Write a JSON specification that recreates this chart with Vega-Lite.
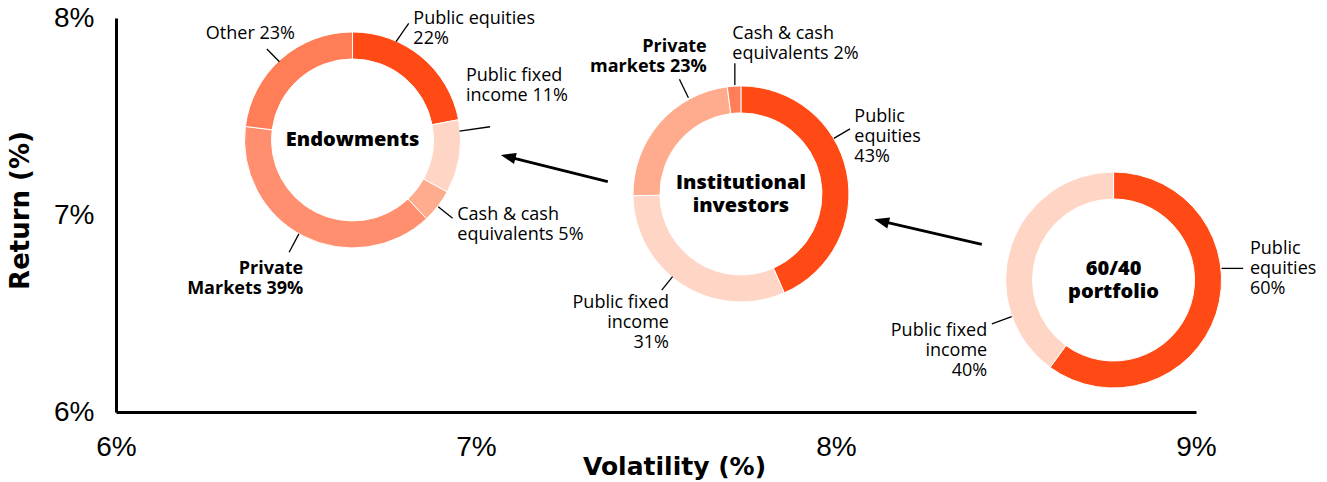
{
  "$schema": "https://vega.github.io/schema/vega-lite/v6.json",
  "width": 1080,
  "height": 394,
  "autosize": {"type": "none"},
  "padding": {"left": 116, "top": 18, "right": 131, "bottom": 70},
  "background": "white",
  "config": {
    "view": {"stroke": null},
    "axis": {
      "grid": false,
      "ticks": false,
      "tickSize": 0,
      "labelFlush": false,
      "domainColor": "black",
      "domainWidth": 3,
      "labelFont": "Liberation Sans",
      "labelFontSize": 28,
      "labelColor": "black",
      "titleFont": "DejaVu Sans",
      "titleFontSize": 25,
      "titleFontWeight": "bold",
      "titleColor": "black"
    }
  },
  "encoding": {
    "x": {
      "field": "vol",
      "type": "quantitative",
      "scale": {"domain": [6, 9], "nice": false, "zero": false},
      "axis": {
        "values": [6, 7, 8, 9],
        "labelExpr": "datum.value + '%'",
        "title": "Volatility (%)",
        "labelPadding": 21,
        "titleX": 558,
        "titleY": 54,
        "titleBaseline": "middle"
      }
    },
    "y": {
      "field": "ret",
      "type": "quantitative",
      "scale": {"domain": [6, 8], "nice": false, "zero": false},
      "axis": {
        "values": [6, 7, 8],
        "labelExpr": "datum.value + '%'",
        "title": "Return (%)",
        "labelPadding": 22,
        "titleX": -96,
        "titleY": 192,
        "titleFontSize": 26,
        "titleBaseline": "middle"
      }
    }
  },
  "layer": [
    {
      "data": {"values": [
        {"portfolio": "Endowments", "asset": "Public equities", "pct": 22, "order": 1, "vol": 6.657, "ret": 7.381},
        {"portfolio": "Endowments", "asset": "Public fixed income", "pct": 11, "order": 2, "vol": 6.657, "ret": 7.381},
        {"portfolio": "Endowments", "asset": "Cash & cash equivalents", "pct": 5, "order": 3, "vol": 6.657, "ret": 7.381},
        {"portfolio": "Endowments", "asset": "Private markets", "pct": 39, "order": 4, "vol": 6.657, "ret": 7.381},
        {"portfolio": "Endowments", "asset": "Other", "pct": 23, "order": 5, "vol": 6.657, "ret": 7.381}
      ]},
      "transform": [{"stack": "pct", "groupby": ["portfolio"], "sort": [{"field": "order"}], "offset": "normalize", "as": ["t0", "t1"]}],
      "mark": {"type": "arc", "innerRadius": 81, "outerRadius": 108, "stroke": "white", "strokeWidth": 1},
      "encoding": {
        "theta": {"field": "t0", "type": "quantitative", "scale": {"domain": [0, 1], "range": [0, 6.283185307179586]}},
        "theta2": {"field": "t1"},
        "color": {"field": "asset", "type": "nominal", "legend": null,
          "scale": {"domain": ["Public equities", "Public fixed income", "Cash & cash equivalents", "Private markets", "Other"],
                    "range": ["#FF4A15", "#FFD6C6", "#FFAC8E", "#FF8F6E", "#FF7D57"]}}
      }
    },
    {
      "data": {"values": [
        {"portfolio": "Institutional investors", "asset": "Public equities", "pct": 43, "order": 1, "vol": 7.736, "ret": 7.107},
        {"portfolio": "Institutional investors", "asset": "Public fixed income", "pct": 31, "order": 2, "vol": 7.736, "ret": 7.107},
        {"portfolio": "Institutional investors", "asset": "Private markets", "pct": 23, "order": 3, "vol": 7.736, "ret": 7.107},
        {"portfolio": "Institutional investors", "asset": "Cash & cash equivalents", "pct": 2, "order": 4, "vol": 7.736, "ret": 7.107}
      ]},
      "transform": [{"stack": "pct", "groupby": ["portfolio"], "sort": [{"field": "order"}], "offset": "normalize", "as": ["t0", "t1"]}],
      "mark": {"type": "arc", "innerRadius": 81, "outerRadius": 108, "stroke": "white", "strokeWidth": 1},
      "encoding": {
        "theta": {"field": "t0", "type": "quantitative", "scale": {"domain": [0, 1], "range": [0, 6.283185307179586]}},
        "theta2": {"field": "t1"},
        "color": {"field": "asset", "type": "nominal", "legend": null,
          "scale": {"domain": ["Public equities", "Public fixed income", "Private markets", "Cash & cash equivalents"],
                    "range": ["#FF4A15", "#FFD6C6", "#FFAC8E", "#FF7D57"]}}
      }
    },
    {
      "data": {"values": [
        {"portfolio": "60/40 portfolio", "asset": "Public equities", "pct": 60, "order": 1, "vol": 8.771, "ret": 6.670},
        {"portfolio": "60/40 portfolio", "asset": "Public fixed income", "pct": 40, "order": 2, "vol": 8.771, "ret": 6.670}
      ]},
      "transform": [{"stack": "pct", "groupby": ["portfolio"], "sort": [{"field": "order"}], "offset": "normalize", "as": ["t0", "t1"]}],
      "mark": {"type": "arc", "innerRadius": 81, "outerRadius": 108, "stroke": "white", "strokeWidth": 1},
      "encoding": {
        "theta": {"field": "t0", "type": "quantitative", "scale": {"domain": [0, 1], "range": [0, 6.283185307179586]}},
        "theta2": {"field": "t1"},
        "color": {"field": "asset", "type": "nominal", "legend": null,
          "scale": {"domain": ["Public equities", "Public fixed income"],
                    "range": ["#FF4A15", "#FFD6C6"]}}
      }
    },
    {
      "data": {"values": [
        {"vol": 6.778, "ret": 7.880, "vol2": 6.813, "ret2": 7.973},
        {"vol": 6.954, "ret": 7.426, "vol2": 7.039, "ret2": 7.448},
        {"vol": 6.895, "ret": 7.042, "vol2": 6.935, "ret2": 6.983},
        {"vol": 6.508, "ret": 6.904, "vol2": 6.481, "ret2": 6.811},
        {"vol": 6.454, "ret": 7.778, "vol2": 6.419, "ret2": 7.843},
        {"vol": 7.719, "ret": 7.660, "vol2": 7.719, "ret2": 7.770},
        {"vol": 7.590, "ret": 7.595, "vol2": 7.565, "ret2": 7.689},
        {"vol": 7.994, "ret": 7.389, "vol2": 8.039, "ret2": 7.437},
        {"vol": 7.546, "ret": 6.687, "vol2": 7.516, "ret2": 6.619},
        {"vol": 9.071, "ret": 6.729, "vol2": 9.131, "ret2": 6.729},
        {"vol": 8.488, "ret": 6.484, "vol2": 8.433, "ret2": 6.447}
      ]},
      "mark": {"type": "rule", "color": "black", "strokeWidth": 1.3},
      "encoding": {"x2": {"field": "vol2"}, "y2": {"field": "ret2"}}
    },
    {
      "data": {"values": [
        {"vol": 7.366, "ret": 7.169, "vol2": 7.101, "ret2": 7.290},
        {"vol": 8.405, "ret": 6.851, "vol2": 8.138, "ret2": 6.964}
      ]},
      "mark": {"type": "rule", "color": "black", "strokeWidth": 2.8},
      "encoding": {"x2": {"field": "vol2"}, "y2": {"field": "ret2"}}
    },
    {
      "data": {"values": [
        {"vol": 7.069, "ret": 7.305},
        {"vol": 8.106, "ret": 6.978}
      ]},
      "mark": {"type": "point", "shape": "M0,0 L1.6,-0.6 L1.6,0.6 Z", "size": 350, "angle": 14, "filled": true, "color": "black", "opacity": 1, "strokeWidth": 0},
      "encoding": {}
    },
    {
      "data": {"values": [
        {"label": "Public equities\n22%", "vol": 6.826, "ret": 8.043},
        {"label": "Public fixed\nincome 11%", "vol": 6.972, "ret": 7.752},
        {"label": "Cash & cash\nequivalents 5%", "vol": 6.948, "ret": 7.047},
        {"label": "Cash & cash\nequivalents 2%", "vol": 7.712, "ret": 7.964},
        {"label": "Public\nequities\n43%", "vol": 8.051, "ret": 7.541},
        {"label": "Public\nequities\n60%", "vol": 9.150, "ret": 6.872}
      ]},
      "mark": {"type": "text", "align": "left", "baseline": "top", "font": "Open Sans", "fontSize": 18, "lineHeight": 20, "lineBreak": "\n", "color": "black"},
      "encoding": {"text": {"field": "label"}}
    },
    {
      "data": {"values": [
        {"label": "Other 23%", "vol": 6.497, "ret": 7.964},
        {"label": "Public fixed\nincome\n31%", "vol": 7.536, "ret": 6.598},
        {"label": "Public fixed\nincome\n40%", "vol": 8.420, "ret": 6.458}
      ]},
      "mark": {"type": "text", "align": "right", "baseline": "top", "font": "Open Sans", "fontSize": 18, "lineHeight": 20, "lineBreak": "\n", "color": "black"},
      "encoding": {"text": {"field": "label"}}
    },
    {
      "data": {"values": [
        {"label": "Private\nMarkets 39%", "vol": 6.520, "ret": 6.771},
        {"label": "Private\nmarkets 23%", "vol": 7.641, "ret": 7.900}
      ]},
      "mark": {"type": "text", "align": "right", "baseline": "top", "font": "Open Sans", "fontWeight": "bold", "fontSize": 18, "lineHeight": 20, "lineBreak": "\n", "color": "black"},
      "encoding": {"text": {"field": "label"}}
    },
    {
      "data": {"values": [
        {"label": "Endowments", "vol": 6.657, "ret": 7.381}
      ]},
      "mark": {"type": "text", "align": "center", "baseline": "middle", "font": "Open Sans", "fontWeight": 800, "fontSize": 20, "lineHeight": 23, "lineBreak": "\n", "color": "black"},
      "encoding": {"text": {"field": "label"}}
    },
    {
      "data": {"values": [
        {"label": "Institutional\ninvestors", "vol": 7.736, "ret": 7.107},
        {"label": "60/40\nportfolio", "vol": 8.771, "ret": 6.670}
      ]},
      "mark": {"type": "text", "align": "center", "baseline": "middle", "dy": -11, "font": "Open Sans", "fontWeight": 800, "fontSize": 20, "lineHeight": 23, "lineBreak": "\n", "color": "black"},
      "encoding": {"text": {"field": "label"}}
    }
  ],
  "resolve": {"scale": {"color": "independent"}}
}
